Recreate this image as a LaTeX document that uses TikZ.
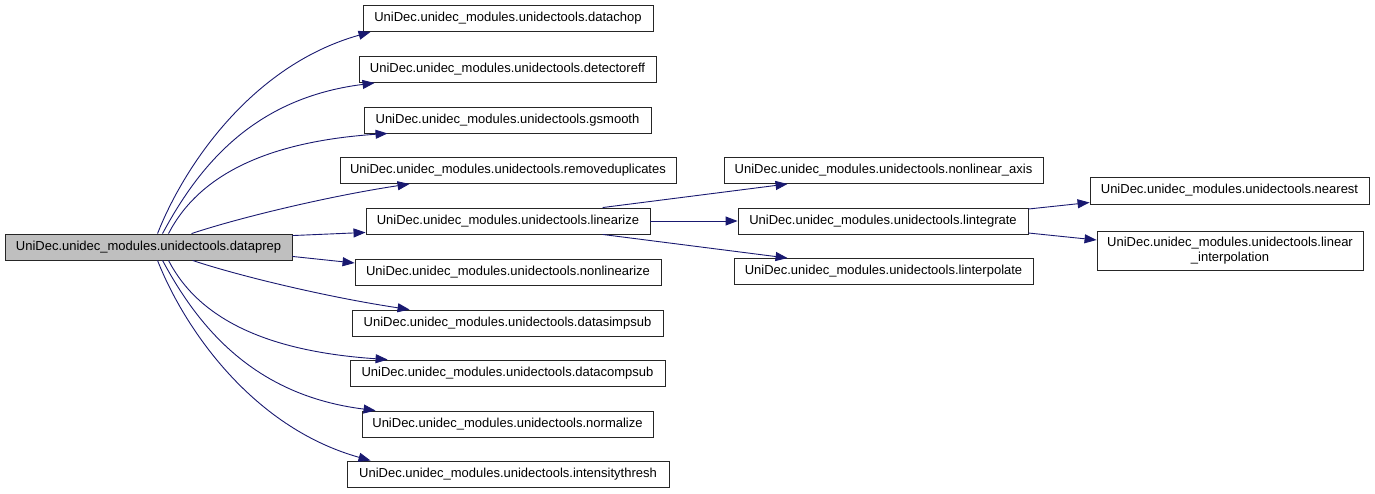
\documentclass[tikz,border=0pt]{standalone}
\usepackage{fontspec}
\setmainfont{Liberation Sans}
\usetikzlibrary{arrows.meta,calc}
\definecolor{edgeblue}{RGB}{25,25,112}
\definecolor{rootfill}{RGB}{191,191,191}
\begin{document}
\begin{tikzpicture}[x=1pt,y=-1pt,
  box/.style={draw=black!85, line width=0.9pt, fill=white, inner sep=0pt,
    minimum height=26pt, font=\fontsize{13}{15}\selectfont, text=black, align=center},
  root/.style={box, fill=rootfill},
  edge/.style={draw=edgeblue, line width=0.9pt, -{Triangle[length=12pt,width=9pt]}}]
\useasboundingbox (0,0) rectangle (1375,493);

\node[root, minimum width=287pt] (dp) at (148.5,247) {UniDec.unidec\_modules.unidectools.dataprep};

\node[box, minimum width=290pt] (datachop) at (508,18.5) {UniDec.unidec\_modules.unidectools.datachop};
\node[box, minimum width=297pt] (detectoreff) at (507.5,69.5) {UniDec.unidec\_modules.unidectools.detectoreff};
\node[box, minimum width=287pt] (gsmooth) at (507.5,120) {UniDec.unidec\_modules.unidectools.gsmooth};
\node[box, minimum width=336pt] (removedup) at (508,170.5) {UniDec.unidec\_modules.unidectools.removeduplicates};
\node[box, minimum width=284pt] (linearize) at (508,221) {UniDec.unidec\_modules.unidectools.linearize};
\node[box, minimum width=306pt] (nonlinearize) at (508,272) {UniDec.unidec\_modules.unidectools.nonlinearize};
\node[box, minimum width=311pt] (datasimpsub) at (507.5,323) {UniDec.unidec\_modules.unidectools.datasimpsub};
\node[box, minimum width=315pt] (datacompsub) at (507.5,373) {UniDec.unidec\_modules.unidectools.datacompsub};
\node[box, minimum width=291pt] (normalize) at (507.5,424) {UniDec.unidec\_modules.unidectools.normalize};
\node[box, minimum width=322pt] (intensity) at (508,474) {UniDec.unidec\_modules.unidectools.intensitythresh};

\node[box, minimum width=319pt] (nlaxis) at (883.5,170.5) {UniDec.unidec\_modules.unidectools.nonlinear\_axis};
\node[box, minimum width=290pt] (lintegrate) at (883,221) {UniDec.unidec\_modules.unidectools.lintegrate};
\node[box, minimum width=299pt] (linterpolate) at (883.5,271.5) {UniDec.unidec\_modules.unidectools.linterpolate};

\node[box, minimum width=279pt, minimum height=27pt] (nearest) at (1229.5,190.5) {UniDec.unidec\_modules.unidectools.nearest};
\node[box, minimum width=266pt, minimum height=39pt] (linint) at (1230,250.5) {UniDec.unidec\_modules.unidectools.linear\\\_interpolation};

% edges from dataprep (upper fan)
\draw[edge] ($(dp.north west)+(153,0)$) .. controls +(25,-64) and +(-121,34) .. ($(datachop.south west)+(8,0)$);
\draw[edge] ($(dp.north west)+(158,0)$) .. controls +(37,-69) and +(-120,15) .. ($(detectoreff.south west)+(16,0)$);
\draw[edge] ($(dp.north west)+(164,0)$) .. controls +(31,-60) and +(-118,8) .. ($(gsmooth.south west)+(24,0)$);
\draw[edge] ($(dp.north west)+(187,0)$) .. controls +(48,-16) and +(-80,12) .. ($(removedup.south west)+(70,0)$);
\draw[edge] ($(dp.north east)+(0,2)$) -- ($(linearize.south west)+(0,-2)$);
\draw[edge] ($(dp.south east)+(0,-4)$) -- ($(nonlinearize.west)+(0,-9)$);
% lower fan
\draw[edge] ($(dp.south west)+(188,0)$) .. controls +(48,16) and +(-80,-12) .. ($(datasimpsub.north west)+(58,0)$);
\draw[edge] ($(dp.south west)+(164,0)$) .. controls +(31,60) and +(-118,-8) .. ($(datacompsub.north west)+(38,0)$);
\draw[edge] ($(dp.south west)+(158,0)$) .. controls +(37,69) and +(-120,-15) .. ($(normalize.north west)+(14,0)$);
\draw[edge] ($(dp.south west)+(153,0)$) .. controls +(25,64) and +(-121,-34) .. ($(intensity.north west)+(24,0)$);

% linearize edges
\draw[edge] ($(linearize.north west)+(237,0)$) -- ($(nlaxis.south west)+(64,0)$);
\draw[edge] (linearize.east) -- (lintegrate.west);
\draw[edge] ($(linearize.south west)+(237,0)$) -- ($(linterpolate.north west)+(54,0)$);

% lintegrate edges
\draw[edge] ($(lintegrate.east)+(0,-12)$) -- ($(nearest.west)+(0,12)$);
\draw[edge] ($(lintegrate.east)+(0,12)$) -- ($(linint.west)+(0,-10.5)$);
\end{tikzpicture}
\end{document}
